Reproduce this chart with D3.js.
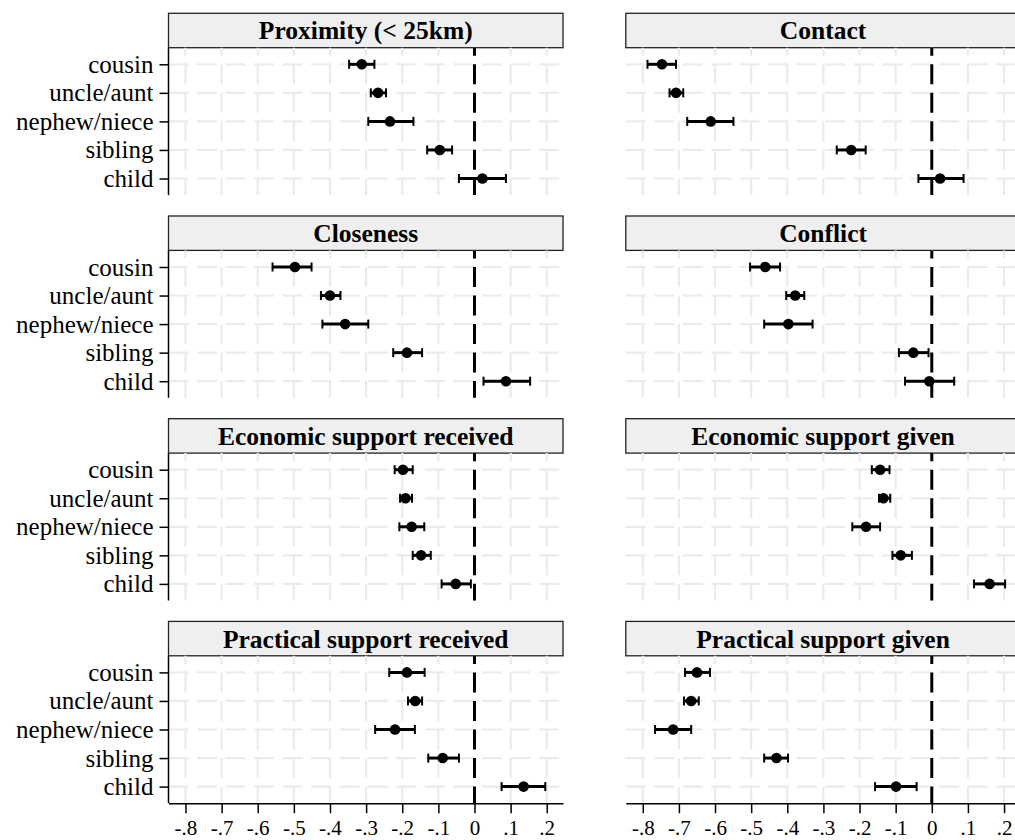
<!DOCTYPE html>
<html>
<head>
<meta charset="utf-8">
<script src="https://cdn.jsdelivr.net/npm/d3@7"></script>
<style>
  body { margin: 0; background: #fff; }
  svg { display: block; }
</style>
</head>
<body>
<div id="chart"></div>
<script>
// Data
const titles = ["Proximity (< 25km)", "Contact", "Closeness", "Conflict",
  "Economic support received", "Economic support given",
  "Practical support received", "Practical support given"]
const relatives = ["cousin", "uncle/aunt", "nephew/niece", "sibling", "child"]
const xTicks = [-0.8, -0.7, -0.6, -0.5, -0.4, -0.3, -0.2, -0.1, 0, 0.1, 0.2]
const xTickLabels = ["-.8", "-.7", "-.6", "-.5", "-.4", "-.3", "-.2", "-.1", "0", ".1", ".2"]

// [estimate, lower, upper] for cousin, uncle/aunt, nephew/niece, sibling, child
const proximity = [[-0.312, -0.347, -0.277], [-0.267, -0.287, -0.245], [-0.234, -0.294, -0.169], [-0.096, -0.131, -0.062], [0.022, -0.043, 0.087]]
const contact = [[-0.747, -0.787, -0.708], [-0.708, -0.726, -0.688], [-0.612, -0.677, -0.549], [-0.223, -0.263, -0.183], [0.023, -0.037, 0.088]]
const closeness = [[-0.497, -0.559, -0.451], [-0.400, -0.425, -0.371], [-0.358, -0.421, -0.294], [-0.187, -0.225, -0.145], [0.087, 0.025, 0.154]]
const conflict = [[-0.461, -0.503, -0.420], [-0.378, -0.403, -0.353], [-0.397, -0.464, -0.330], [-0.051, -0.091, -0.009], [-0.007, -0.074, 0.062]]
const econReceived = [[-0.198, -0.221, -0.171], [-0.191, -0.206, -0.173], [-0.174, -0.208, -0.139], [-0.148, -0.171, -0.121], [-0.052, -0.091, -0.010]]
const econGiven = [[-0.143, -0.166, -0.117], [-0.134, -0.146, -0.115], [-0.182, -0.220, -0.143], [-0.086, -0.109, -0.055], [0.160, 0.117, 0.203]]
const practReceived = [[-0.187, -0.236, -0.138], [-0.164, -0.184, -0.145], [-0.220, -0.275, -0.165], [-0.088, -0.128, -0.043], [0.136, 0.075, 0.196]]
const practGiven = [[-0.650, -0.683, -0.614], [-0.666, -0.686, -0.645], [-0.716, -0.766, -0.666], [-0.430, -0.464, -0.398], [-0.099, -0.157, -0.042]]

const panelData = [proximity, contact, closeness, conflict, econReceived, econGiven, practReceived, practGiven]

// Layout
const width = 1015, height = 840
const colLeft = [168.5, 625.8]
const panelW = 394.5
const top0 = 13.3, period = 202.7
const headerH = 34.4, plotH = 147.4
const rowPad = 16.6
const font = '"Liberation Serif", "Times New Roman", serif'
const gridDash = "20,8.5"
const dashOffset = 28.5 - rowPad

const svg = d3.select('#chart')
    .append('svg')
    .attr("width", width)
    .attr("height", height)
    .style("font-family", font)

const x = d3.scaleLinear()
    .domain([-0.847, 0.245])
    .range([0, panelW])

const y = d3.scalePoint()
    .domain(relatives)
    .range([rowPad, plotH - rowPad])

panelData.forEach(function (data, i) {
    const col = i % 2, row = Math.floor(i / 2)
    const panel = svg.append("g")
        .attr("transform", "translate(" + colLeft[col] + "," + (top0 + row * period) + ")")

    // header strip
    panel.append("rect")
        .attr("x", 0).attr("y", 0)
        .attr("width", panelW).attr("height", headerH)
        .attr("fill", "#efefef")
        .attr("stroke", "#222")
        .attr("stroke-width", 1.3)

    panel.append("text")
        .attr("x", panelW / 2)
        .attr("y", headerH / 2)
        .attr("dy", "0.35em")
        .attr("text-anchor", "middle")
        .attr("font-family", font)
        .attr("font-weight", "bold")
        .attr("font-size", 25.5)
        .text(titles[i])

    const plot = panel.append("g")
        .attr("transform", "translate(0," + headerH + ")")

    // grid
    plot.append("g")
        .selectAll("line")
        .data(relatives)
        .enter()
        .append("line")
        .attr("x1", 0).attr("x2", panelW)
        .attr("y1", d => y(d)).attr("y2", d => y(d))
        .attr("stroke", "#ebebeb")
        .attr("stroke-width", 2.2)
        .attr("stroke-dasharray", gridDash)

    plot.append("g")
        .selectAll("line")
        .data(xTicks)
        .enter()
        .append("line")
        .attr("x1", d => x(d)).attr("x2", d => x(d))
        .attr("y1", 0).attr("y2", plotH)
        .attr("stroke", "#ebebeb")
        .attr("stroke-width", 2.2)
        .attr("stroke-dasharray", gridDash)
        .attr("stroke-dashoffset", dashOffset)

    // zero line
    plot.append("line")
        .attr("x1", x(0)).attr("x2", x(0))
        .attr("y1", 0).attr("y2", plotH)
        .attr("stroke", "black")
        .attr("stroke-width", 3)
        .attr("stroke-dasharray", gridDash)
        .attr("stroke-dashoffset", dashOffset)

    // error bars
    const bars = plot.append("g")
        .selectAll("g")
        .data(data)
        .enter()
        .append("g")
        .attr("transform", (d, j) => "translate(0," + y(relatives[j]) + ")")

    bars.append("line")
        .attr("x1", d => x(d[1])).attr("x2", d => x(d[2]))
        .attr("stroke", "black")
        .attr("stroke-width", 3)

    bars.append("line")
        .attr("x1", d => x(d[1])).attr("x2", d => x(d[1]))
        .attr("y1", -4.5).attr("y2", 4.5)
        .attr("stroke", "black")
        .attr("stroke-width", 2)

    bars.append("line")
        .attr("x1", d => x(d[2])).attr("x2", d => x(d[2]))
        .attr("y1", -4.5).attr("y2", 4.5)
        .attr("stroke", "black")
        .attr("stroke-width", 2)

    bars.append("circle")
        .attr("cx", d => x(d[0]))
        .attr("r", 5.3)
        .attr("fill", "black")

    // left axis
    if (col == 0) {
        const yAxis = plot.append("g")
            .call(d3.axisLeft(y).tickSize(9).tickPadding(6))
        yAxis.select(".domain").remove()
        yAxis.selectAll("line").attr("stroke-width", 1.5)
        yAxis.selectAll("text")
            .attr("font-family", font)
            .attr("font-size", 25)
            .attr("fill", "black")
        plot.append("line")
            .attr("x1", 0).attr("x2", 0)
            .attr("y1", 0).attr("y2", plotH)
            .attr("stroke", "black")
            .attr("stroke-width", 1.5)
    }

    // bottom axis
    if (row == 3) {
        const xAxis = plot.append("g")
            .attr("transform", "translate(0," + plotH + ")")
            .call(d3.axisBottom(x)
                .tickValues(xTicks)
                .tickFormat((d, k) => xTickLabels[k])
                .tickSize(10)
                .tickSizeOuter(0)
                .tickPadding(6.5))
        xAxis.select(".domain").attr("stroke-width", 1.5)
        xAxis.selectAll("line").attr("stroke-width", 1.5)
        xAxis.selectAll("text")
            .attr("font-family", font)
            .attr("font-size", 21)
            .attr("fill", "black")
    }
})
</script>
</body>
</html>
